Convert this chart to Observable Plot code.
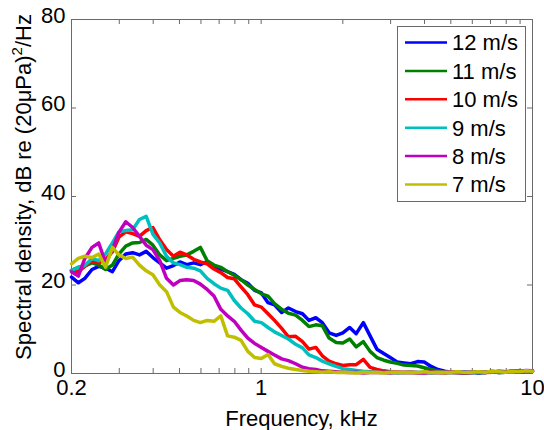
<!DOCTYPE html>
<html><head><meta charset="utf-8">
<script src="https://cdn.jsdelivr.net/npm/d3@7"></script>
<script src="https://cdn.jsdelivr.net/npm/@observablehq/plot@0.6"></script>
<style>html,body{margin:0;padding:0;background:#fff;} svg{display:block}</style>
</head><body><div id="chart"></div>
<script>
// Frequency grid, kHz
const freq = [0.200,0.212,0.224,0.238,0.252,0.267,0.283,0.299,0.317,0.336,
 0.356,0.377,0.399,0.423,0.448,0.475,0.502,0.532,0.564,0.597,
 0.632,0.670,0.710,0.752,0.796,0.843,0.893,0.946,1.002,1.06,
 1.12,1.19,1.26,1.34,1.42,1.50,1.59,1.68,1.78,1.89,
 2.00,2.12,2.24,2.38,2.52,2.67,2.83,2.99,3.17,3.36,
 3.56,3.77,3.99,4.23,4.48,4.75,5.02,5.32,5.64,5.97,
 6.32,6.70,7.10,7.52,7.96,8.43,8.93,9.46,10.0];

// Spectral density, dB re (20 uPa)^2/Hz
const s12 = [21.8,20.5,21.5,23.5,24.2,23.8,23.0,25.5,27.0,27.3,
 26.8,27.6,26.2,25.0,23.8,24.4,25.2,24.6,25.0,24.6,
 25.3,24.0,23.6,23.0,22.4,21.2,20.4,18.8,18.2,16.0,
 15.5,13.8,14.8,14.0,13.5,12.0,12.6,11.5,9.2,8.6,
 9.2,10.4,9.0,11.5,8.5,5.5,4.5,3.6,2.6,2.4,
 2.2,2.7,2.6,1.6,0.9,0.5,0.3,0.2,0.1,0.3,
 0.1,0.2,0.4,0.2,0.3,0.5,0.4,0.6,0.5];
const s11 = [23.3,24.0,24.3,25.0,24.5,23.5,24.5,27.0,28.8,29.5,
 29.6,30.3,29.0,26.8,25.5,26.0,26.5,26.8,27.6,28.5,
 25.5,24.5,24.0,23.0,22.2,21.2,20.0,19.0,18.0,17.5,
 15.8,14.5,13.6,13.2,12.0,10.6,11.0,10.8,8.0,7.0,
 6.9,7.8,6.0,7.2,5.0,3.6,3.0,2.6,2.3,1.9,
 1.8,1.7,1.3,0.9,0.6,0.3,0.2,0.3,0.1,0.2,
 0.3,0.2,0.4,0.2,0.3,0.4,0.5,0.3,0.5];
const s10 = [23.3,23.0,24.2,25.5,25.0,25.8,27.5,30.8,32.0,31.6,
 31.0,32.3,33.0,30.2,28.0,26.5,27.4,26.8,25.8,25.2,
 24.8,23.6,22.8,21.7,21.4,19.6,17.8,15.5,15.0,13.5,
 12.0,10.2,8.3,8.4,7.2,5.5,5.9,4.0,2.8,2.2,
 1.8,2.0,2.0,3.2,1.4,0.9,0.6,0.4,0.3,0.2,
 0.3,0.1,0.2,0.3,0.2,0.1,0.3,0.2,0.3,0.2,
 0.4,0.2,0.3,0.5,0.4,0.3,0.5,0.4,0.6];
const s9 = [23.3,24.0,24.4,26.0,25.5,27.0,29.5,32.0,32.3,32.5,
 34.8,35.5,31.5,29.5,26.5,25.0,24.6,24.0,23.8,23.2,
 21.5,20.3,19.3,18.8,16.5,14.8,13.5,11.8,11.5,10.4,
 9.4,8.6,7.8,6.6,5.8,4.2,3.6,2.8,2.2,1.6,
 1.1,0.9,0.7,0.5,0.4,0.3,0.2,0.3,0.1,0.2,
 0.3,0.2,0.3,0.1,0.2,0.3,0.2,0.3,0.4,0.2,
 0.3,0.4,0.3,0.5,0.4,0.3,0.6,0.4,0.5];
const s8 = [23.0,22.0,26.0,28.5,29.5,25.0,28.0,31.9,34.3,33.0,
 31.0,29.0,28.0,25.5,21.5,20.0,21.0,21.2,21.0,20.2,
 19.0,17.5,14.5,13.0,11.8,9.8,8.0,6.8,5.9,5.0,
 4.2,3.3,2.9,2.2,1.4,1.1,0.9,0.6,0.5,0.4,
 0.3,0.2,0.3,0.1,0.2,0.3,0.2,0.1,0.3,0.2,
 0.3,0.2,0.1,0.3,0.2,0.3,0.4,0.2,0.3,0.2,
 0.4,0.3,0.5,0.3,0.4,0.6,0.5,0.7,0.6];
const s7 = [24.8,26.0,26.5,26.2,27.0,24.0,28.5,26.8,26.0,26.3,
 24.5,23.2,22.3,20.0,18.5,15.0,13.8,13.0,12.0,11.5,
 12.0,11.8,13.0,8.5,8.2,7.5,5.0,3.6,3.4,4.3,
 2.2,1.6,1.2,0.9,0.7,0.5,0.4,0.3,0.4,0.2,
 0.3,0.2,0.1,0.3,0.2,0.3,0.1,0.2,0.3,0.2,
 0.3,0.2,0.4,0.2,0.3,0.2,0.3,0.4,0.2,0.3,
 0.4,0.3,0.5,0.4,0.3,0.5,0.4,0.6,0.5];

const seriesNames = ["12 m/s","11 m/s","10 m/s","9 m/s","8 m/s","7 m/s"];
const seriesValues = [s12, s11, s10, s9, s8, s7];
const seriesColors = ["#0000ff","#008000","#ff0000","#00bfbf","#bf00bf","#bfbf00"];
const xTickLabels = [0.2, 1, 10];
const xMinorTicks = [0.2,0.3,0.4,0.5,0.6,0.7,0.8,0.9,1,2,3,4,5,6,7,8,9,10];
const yTicks = [0, 20, 40, 60, 80];
const xTitle = "Frequency, kHz";

const rows = seriesNames.flatMap((name, i) =>
  freq.map((f, j) => ({series: name, f, v: seriesValues[i][j]})));

const W = 544, H = 430, mL = 71, mR = 12, mT = 19, mB = 57;
const innerW = W - mL - mR, innerH = H - mT - mB;
const axisGray = "#6a6a6a";
const font = "'Liberation Sans', Arial, sans-serif";

const chart = Plot.plot({
  width: W, height: H,
  marginLeft: mL, marginRight: mR, marginTop: mT, marginBottom: mB,
  style: {fontFamily: font, fontSize: "22px", background: "white", color: "black"},
  x: {type: "log", domain: [0.2, 10]},
  y: {domain: [0, 80]},
  color: {domain: seriesNames, range: seriesColors},
  marks: [
    Plot.tickX(xMinorTicks, {x: d => d, insetTop: innerH - 5, stroke: axisGray}),
    Plot.tickX(xMinorTicks, {x: d => d, insetBottom: innerH - 5, stroke: axisGray}),
    Plot.tickY(yTicks, {y: d => d, insetRight: innerW - 5, stroke: axisGray}),
    Plot.tickY(yTicks, {y: d => d, insetLeft: innerW - 5, stroke: axisGray}),
    Plot.frame({stroke: axisGray}),
    Plot.line(rows, {x: "f", y: "v", stroke: "series", z: "series", strokeWidth: 3.5}),
    Plot.axisX(xTickLabels, {anchor: "bottom", tickSize: 0, tickPadding: 6,
      tickFormat: d => String(d), label: null, fill: "black"}),
    Plot.axisY(yTicks, {anchor: "left", tickSize: 0, tickPadding: 6, label: null, dy: -4, fill: "black"})
  ]
});
document.getElementById("chart").appendChild(chart);

const svg = d3.select(chart);
// x title
svg.append("text")
  .attr("x", mL + innerW / 2).attr("y", 426)
  .attr("text-anchor", "middle")
  .attr("font-family", font).attr("font-size", 22).attr("fill", "black")
  .text(xTitle);
// y title with superscript
const yt = svg.append("text")
  .attr("transform", "translate(31,187) rotate(-90)")
  .attr("text-anchor", "middle")
  .attr("font-family", font).attr("font-size", 22).attr("fill", "black");
yt.append("tspan").text("Spectral density, dB re (20μPa)");
yt.append("tspan").attr("font-size", 15).attr("dy", -9).text("2");
yt.append("tspan").attr("dy", 9).text("/Hz");

// legend
const lg = svg.append("g");
lg.append("rect").attr("x", 397.5).attr("y", 26.5).attr("width", 128).attr("height", 175)
  .attr("fill", "white").attr("stroke", axisGray);
seriesNames.forEach((name, i) => {
  const y = 42.5 + i * 28.4;
  lg.append("line").attr("x1", 405).attr("x2", 447).attr("y1", y).attr("y2", y)
    .attr("stroke", seriesColors[i]).attr("stroke-width", 2.5);
  lg.append("text").attr("x", 452).attr("y", y).attr("dy", "0.36em")
    .attr("text-anchor", "start")
    .attr("font-family", font).attr("font-size", 22).attr("fill", "black").text(name);
});
</script>
</body></html>
